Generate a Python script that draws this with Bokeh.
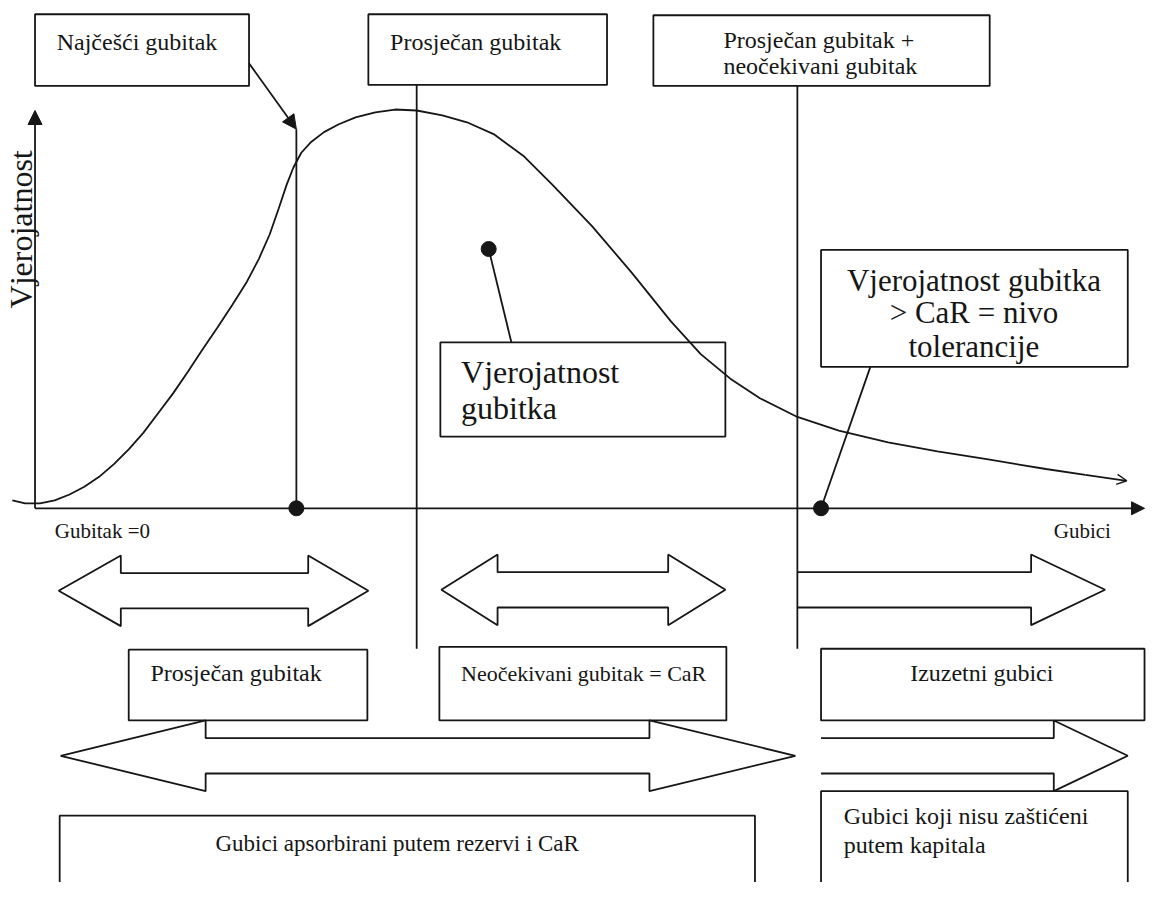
import numpy as np
from bokeh.plotting import figure
from bokeh.models import Range1d, Arrow, NormalHead, OpenHead
from bokeh.core.properties import value
from bokeh.embed import file_html
from bokeh.resources import INLINE

# ---------------- data ----------------
# probability-of-loss curve (diagram units: x to the right, y downward)
curve_x = [12, 25, 40, 55, 70, 85, 100, 115, 130, 145, 160, 175, 190, 205, 220,
           235, 250, 262, 273, 282, 290, 297, 305, 315, 328, 343, 360, 380, 400, 422,
           448, 473, 500, 530, 560, 600, 640, 680, 710, 740, 770, 808, 850, 900,
           950, 1000, 1060, 1100, 1142]
curve_y = [509, 512, 512, 509, 503, 495, 485, 472, 457, 440, 420, 400, 378, 355, 333,
           310, 286, 263, 238, 212, 188, 170, 155, 144, 134, 126, 119, 114, 111, 112,
           117, 124, 136, 158, 188, 230, 277, 327, 360, 385, 405, 424, 438, 450,
           459, 467, 477, 483, 489]

# boxes
box_left = [35, 373, 662, 446, 832, 130, 445, 832, 60, 832]
box_right = [252, 615, 1003, 735, 1143, 372, 736, 1160, 765, 1143]
box_top = [14, 14, 15, 348, 254, 661, 658, 660, 830, 805]
box_bottom = [87, 86, 87, 444, 373, 733, 733, 733, 910, 910]

# labels
label_text = ["Najčešći gubitak", "Prosječan gubitak", "Prosječan gubitak  +",
              "neočekivani gubitak", "Vjerojatnost", "gubitka",
              "Gubitak =0", "Gubici", "Prosječan gubitak",
              "Neočekivani gubitak = CaR",
              "Gubici apsorbirani putem rezervi i CaR",
              "Gubici koji nisu zaštićeni", "putem kapitala"]
label_x = [57, 395, 733, 733, 467, 467, 55, 1068, 152, 467, 218, 855, 855]
label_y = [42, 42, 40, 67, 378, 415, 540, 540, 685, 685, 858, 830, 860]
label_size = ["24px", "24px", "24px", "24px", "32px", "32px", "21px", "21px",
              "24px", "22px", "23px", "24px", "24px"]

center_text = ["Vjerojatnost gubitka", "> CaR = nivo", "tolerancije", "Izuzetni gubici"]
center_x = [987, 987, 987, 995]
center_y = [285, 318, 352, 685]
center_size = ["31px", "31px", "31px", "24px"]

axis_label = "Vjerojatnost"

# double-headed arrows: left tip, left base, right base, right tip, center y
dbl_tip_l = [59, 447, 61]
dbl_base_l = [122, 504, 208]
dbl_base_r = [312, 677, 658]
dbl_tip_r = [373, 735, 806]
dbl_y = [601, 600, 769]

# single right arrows: shaft start, head base, tip, center y
sgl_start = [808, 832]
sgl_base = [1045, 1068]
sgl_tip = [1120, 1143]
sgl_y = [600, 769]

# markers
dot_x = [300, 495, 832]
dot_y = [517, 253, 517]

# ---------------- figure ----------------
INK = "#161616"
LW = 1.8
FONT = value("Liberation Serif")

p = figure(width=1146, height=882, x_range=Range1d(0, 1162), y_range=Range1d(898, 0),
           output_backend="svg", toolbar_location=None, min_border=0)
p.axis.visible = False
p.grid.visible = False
p.outline_line_color = None
p.background_fill_color = "white"

# boxes
p.quad(left=box_left, right=box_right, top=box_top, bottom=box_bottom,
       fill_color=None, line_color=INK, line_width=LW)

# vertical guide lines
p.segment(x0=[300, 422, 808], y0=[131, 86, 87], x1=[300, 422, 808], y1=[517, 660, 660],
          line_color=INK, line_width=LW)

# axes with arrowheads
p.add_layout(Arrow(end=NormalHead(size=13, fill_color=INK, line_color=INK),
                   x_start=35, y_start=517, x_end=1160, y_end=517,
                   line_color=INK, line_width=LW))
p.add_layout(Arrow(end=NormalHead(size=14, fill_color=INK, line_color=INK),
                   x_start=35, y_start=517, x_end=35, y_end=112,
                   line_color=INK, line_width=LW))

# pointer from "Najčešći gubitak"
p.add_layout(Arrow(end=NormalHead(size=14, fill_color=INK, line_color=INK),
                   x_start=252, y_start=64, x_end=300, y_end=131,
                   line_color=INK, line_width=LW))

# curve
p.line(curve_x[:-1], curve_y[:-1], line_color=INK, line_width=LW)
p.add_layout(Arrow(end=OpenHead(size=10, line_color=INK, line_width=1.4),
                   x_start=curve_x[-2], y_start=curve_y[-2],
                   x_end=curve_x[-1], y_end=curve_y[-1],
                   line_color=INK, line_width=LW))

# callout lines
p.segment(x0=[495, 832], y0=[253, 517], x1=[518, 882], y1=[348, 373],
          line_color=INK, line_width=LW)

# double-headed arrows
H, S = 36, 18
xs, ys = [], []
for a, b, c, d, yc in zip(dbl_tip_l, dbl_base_l, dbl_base_r, dbl_tip_r, dbl_y):
    xs.append([a, b, b, c, c, d, c, c, b, b])
    ys.append([yc, yc - H, yc - S, yc - S, yc - H, yc, yc + H, yc + S, yc + S, yc + H])
p.patches(xs, ys, fill_color="white", line_color=INK, line_width=LW)

# single right arrows (open at the left end)
for a, b, d, yc in zip(sgl_start, sgl_base, sgl_tip, sgl_y):
    p.line([a, b, b, d, b, b, a],
           [yc - S, yc - S, yc - H, yc, yc + H, yc + S, yc + S],
           line_color=INK, line_width=LW)

# dots
p.scatter(dot_x, dot_y, size=15, color=INK)

# texts
p.text(x=label_x, y=label_y, text=label_text, text_font=FONT, text_font_size=label_size,
       text_baseline="middle", text_align="left", text_color=INK)
p.text(x=center_x, y=center_y, text=center_text, text_font=FONT, text_font_size=center_size,
       text_baseline="middle", text_align="center", text_color=INK)
p.text(x=[21], y=[233], text=[axis_label], text_font=FONT, text_font_size="32px",
       text_baseline="middle", text_align="center", text_color=INK, angle=np.pi / 2)

open("out.html", "w").write(file_html(p, INLINE))
